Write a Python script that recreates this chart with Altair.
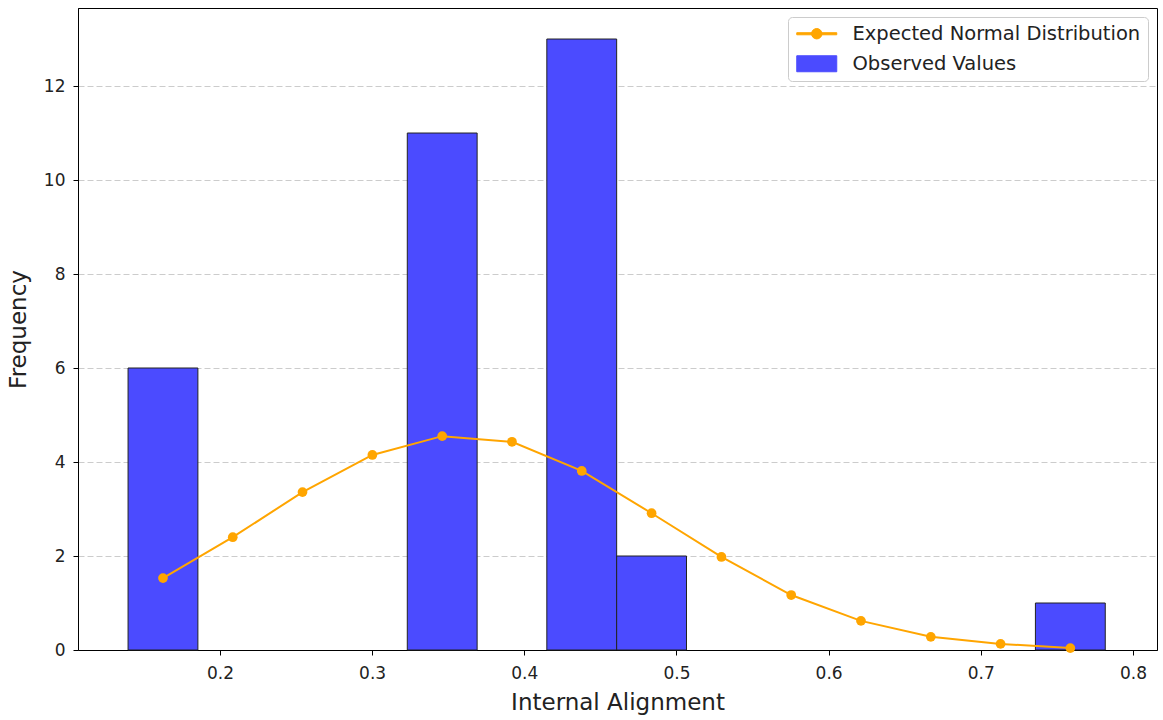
import altair as alt
import pandas as pd

# Histogram bin edges and counts
bin_edges = [0.1396, 0.1855, 0.2313, 0.2772, 0.3231, 0.3690, 0.4148, 0.4607,
             0.5066, 0.5525, 0.5983, 0.6442, 0.6901, 0.7359, 0.7818]
counts = [6, 0, 0, 0, 11, 0, 13, 2, 0, 0, 0, 0, 0, 1]
# Expected normal distribution values at bin centres
expected = [1.53, 2.40, 3.36, 4.15, 4.55, 4.43, 3.81, 2.91, 1.98, 1.17, 0.62, 0.28, 0.13, 0.04]

x_ticks = [0.2, 0.3, 0.4, 0.5, 0.6, 0.7, 0.8]
y_ticks = [0, 2, 4, 6, 8, 10, 12]

S_LINE = "Expected Normal Distribution"
S_BAR = "Observed Values"

bars = pd.DataFrame({
    "x0": bin_edges[:-1],
    "x1": bin_edges[1:],
    "count": counts,
    "series": S_BAR,
})
bars = bars[bars["count"] > 0]

line = pd.DataFrame({
    "xc": [(a + b) / 2 for a, b in zip(bin_edges[:-1], bin_edges[1:])],
    "val": expected,
    "series": S_LINE,
})

FONT = "DejaVu Sans"
xscale = alt.Scale(domain=[0.1067, 0.8158], nice=False, zero=False, padding=0)
yscale = alt.Scale(domain=[0, 13.66], nice=False, padding=0)
color = alt.Scale(domain=[S_LINE, S_BAR], range=["#FFA500", "#4b4bff"])

rect_path = "M-2.5,-1H2.5V1H-2.5Z"
line_path = ("M-2.5,-0.13H2.5V0.13H-2.5Z "
             "M-0.65,0A0.65,0.65 0 1,1 0.65,0A0.65,0.65 0 1,1 -0.65,0Z")

legend = alt.Legend(
    title=None,
    orient="top-right",
    offset=9,
    padding=7,
    rowPadding=9,
    labelFont=FONT,
    labelFontSize=19.5,
    labelColor="#222",
    labelOffset=26,
    labelLimit=0,
    symbolSize=256,
    symbolOffset=12,
    symbolType={"expr": f"datum.label == '{S_BAR}' ? '{rect_path}' : '{line_path}'"},
    symbolStrokeColor={"expr": f"datum.label == '{S_BAR}' ? '#222' : '#FFA500'"},
    symbolStrokeWidth=1,
    symbolOpacity=1,
    strokeColor="#cccccc",
    fillColor="white",
    cornerRadius=4,
)

bar_layer = alt.Chart(bars).mark_bar(stroke="#222", strokeWidth=1, opacity=1).encode(
    x=alt.X("x0:Q", scale=xscale,
            axis=alt.Axis(values=x_ticks, format=".1f", title="Internal Alignment", grid=False,
                          labelPadding=10, titlePadding=10)),
    x2="x1:Q",
    y=alt.Y("count:Q", scale=yscale,
            axis=alt.Axis(values=y_ticks, format="d", title="Frequency", grid=True,
                          labelPadding=8, titlePadding=13)),
    y2=alt.datum(0),
    color=alt.Color("series:N", scale=color, legend=legend),
)

line_layer = alt.Chart(line).mark_line(strokeWidth=2).encode(
    x="xc:Q",
    y="val:Q",
    color=alt.Color("series:N", scale=color, legend=legend),
)

point_layer = alt.Chart(line).mark_point(filled=True, size=95, opacity=1, color="#FFA500").encode(
    x="xc:Q",
    y="val:Q",
)

chart = alt.layer(bar_layer, line_layer, point_layer).properties(
    width=1079,
    height=642,
    autosize=alt.AutoSizeParams(type="none"),
    padding={"left": 78, "top": 8, "right": 6, "bottom": 70},
).configure_view(
    stroke="black", strokeWidth=1
).configure_axis(
    labelFont=FONT, labelFontSize=17, labelColor="#222",
    titleFont=FONT, titleFontSize=23, titleFontWeight="normal", titleColor="#222",
    domainColor="black", tickColor="black", tickSize=5,
    gridColor="#cccccc", gridDash=[6, 3], gridWidth=1,
)

chart.save("out.html", embed_options={"renderer": "svg", "actions": False})
